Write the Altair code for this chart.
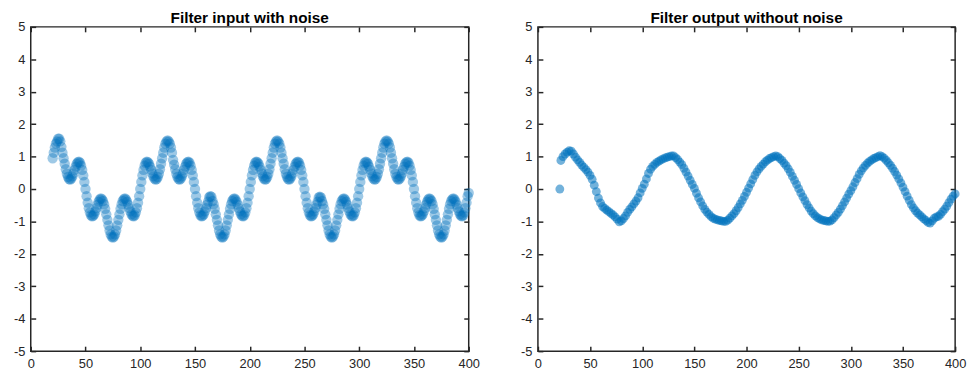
import altair as alt
import pandas as pd

# ---------------- tick values ----------------
x_ticks = [0, 50, 100, 150, 200, 250, 300, 350, 400]
y_ticks = [-5, -4, -3, -2, -1, 0, 1, 2, 3, 4, 5]

# ---------------- filter input with noise (x = 20 .. 400, step 1) ----------------
input_020_069 = [0.95, 1.12, 1.28, 1.40, 1.47, 1.55, 1.55, 1.47, 1.30, 1.12,
                 0.95, 0.78, 0.61, 0.47, 0.37, 0.31, 0.29, 0.32, 0.39, 0.48,
                 0.59, 0.69, 0.78, 0.83, 0.84, 0.81, 0.72, 0.59, 0.42, 0.22,
                 0.00, -0.22, -0.42, -0.59, -0.72, -0.81, -0.84, -0.83, -0.78, -0.69,
                 -0.59, -0.48, -0.39, -0.32, -0.29, -0.31, -0.37, -0.47, -0.61, -0.78]
input_070_119 = [-0.95, -1.12, -1.28, -1.40, -1.47, -1.50, -1.47, -1.40, -1.28, -1.12,
                 -0.95, -0.78, -0.61, -0.47, -0.37, -0.31, -0.29, -0.32, -0.39, -0.48,
                 -0.59, -0.69, -0.78, -0.83, -0.84, -0.81, -0.72, -0.59, -0.42, -0.22,
                 0.00, 0.22, 0.42, 0.59, 0.72, 0.81, 0.84, 0.83, 0.78, 0.69,
                 0.59, 0.48, 0.39, 0.32, 0.29, 0.31, 0.37, 0.47, 0.61, 0.78]
input_120_169 = [0.95, 1.12, 1.28, 1.40, 1.47, 1.50, 1.47, 1.40, 1.28, 1.12,
                 0.90, 0.75, 0.61, 0.47, 0.37, 0.31, 0.29, 0.32, 0.39, 0.48,
                 0.59, 0.69, 0.78, 0.83, 0.84, 0.81, 0.72, 0.59, 0.42, 0.22,
                 0.00, -0.22, -0.42, -0.59, -0.72, -0.81, -0.84, -0.83, -0.78, -0.69,
                 -0.59, -0.48, -0.39, -0.25, -0.22, -0.24, -0.37, -0.47, -0.61, -0.78]
input_170_219 = [-0.95, -1.12, -1.28, -1.40, -1.47, -1.50, -1.47, -1.40, -1.28, -1.12,
                 -0.95, -0.78, -0.61, -0.47, -0.37, -0.31, -0.29, -0.32, -0.39, -0.48,
                 -0.59, -0.69, -0.78, -0.83, -0.84, -0.81, -0.72, -0.59, -0.42, -0.22,
                 0.00, 0.22, 0.42, 0.59, 0.72, 0.81, 0.84, 0.83, 0.78, 0.69,
                 0.59, 0.48, 0.39, 0.32, 0.29, 0.31, 0.37, 0.47, 0.61, 0.78]
input_220_269 = [0.95, 1.12, 1.28, 1.40, 1.47, 1.50, 1.47, 1.40, 1.28, 1.12,
                 0.95, 0.78, 0.61, 0.47, 0.37, 0.31, 0.29, 0.32, 0.39, 0.48,
                 0.59, 0.69, 0.78, 0.83, 0.84, 0.81, 0.72, 0.59, 0.42, 0.22,
                 0.00, -0.22, -0.42, -0.59, -0.72, -0.81, -0.84, -0.83, -0.78, -0.69,
                 -0.59, -0.48, -0.39, -0.26, -0.24, -0.26, -0.37, -0.47, -0.61, -0.78]
input_270_319 = [-0.95, -1.12, -1.28, -1.40, -1.47, -1.50, -1.47, -1.40, -1.28, -1.12,
                 -0.95, -0.78, -0.61, -0.47, -0.37, -0.31, -0.29, -0.32, -0.39, -0.48,
                 -0.59, -0.69, -0.78, -0.83, -0.84, -0.81, -0.72, -0.59, -0.42, -0.22,
                 0.00, 0.22, 0.42, 0.59, 0.72, 0.81, 0.84, 0.83, 0.78, 0.69,
                 0.59, 0.48, 0.39, 0.32, 0.29, 0.31, 0.37, 0.47, 0.61, 0.78]
input_320_369 = [0.95, 1.12, 1.28, 1.40, 1.47, 1.50, 1.47, 1.40, 1.28, 1.12,
                 0.95, 0.78, 0.61, 0.47, 0.37, 0.31, 0.29, 0.32, 0.39, 0.48,
                 0.59, 0.69, 0.78, 0.83, 0.84, 0.81, 0.72, 0.59, 0.42, 0.22,
                 0.00, -0.22, -0.42, -0.59, -0.72, -0.81, -0.84, -0.83, -0.78, -0.69,
                 -0.59, -0.48, -0.39, -0.32, -0.29, -0.31, -0.37, -0.47, -0.61, -0.78]
input_370_400 = [-0.95, -1.12, -1.28, -1.40, -1.47, -1.50, -1.47, -1.40, -1.28, -1.12,
                 -0.95, -0.78, -0.61, -0.47, -0.37, -0.31, -0.29, -0.32, -0.39, -0.48,
                 -0.59, -0.69, -0.78, -0.83, -0.84, -0.81, -0.72, -0.59, -0.42, -0.22,
                 -0.12]

# ---------------- filter output without noise ----------------
output_first_x = [21]
output_first_y = [0.0]
output_022_400 = [0.88, 1.00, 1.08, 1.14, 1.18, 1.17, 1.08, 0.98, 0.90, 0.82,
                  0.74, 0.67, 0.60, 0.52, 0.42, 0.30, 0.12, -0.08, -0.28, -0.43,
                  -0.54, -0.60, -0.65, -0.70, -0.75, -0.80, -0.86, -0.93, -1.01, -0.98,
                  -0.91, -0.83, -0.72, -0.63, -0.55, -0.46, -0.37, -0.27, -0.12, 0.02,
                  0.15, 0.31, 0.48, 0.61, 0.70, 0.76, 0.82, 0.86, 0.90, 0.93,
                  0.96, 0.98, 1.00, 1.02, 1.02, 0.97, 0.91, 0.83, 0.75, 0.64,
                  0.52, 0.40, 0.27, 0.14, 0.02, -0.13, -0.27, -0.40, -0.52, -0.63,
                  -0.71, -0.78, -0.85, -0.90, -0.93, -0.95, -0.97, -0.98, -1.00, -1.00,
                  -0.96, -0.90, -0.83, -0.76, -0.67, -0.57, -0.46, -0.35, -0.23, -0.10,
                  0.03, 0.16, 0.29, 0.42, 0.53, 0.62, 0.70, 0.77, 0.84, 0.89,
                  0.94, 0.97, 1.00, 1.02, 1.00, 0.94, 0.88, 0.80, 0.72, 0.62,
                  0.51, 0.39, 0.27, 0.14, 0.01, -0.12, -0.24, -0.36, -0.48, -0.58,
                  -0.68, -0.76, -0.83, -0.88, -0.92, -0.95, -0.97, -0.98, -1.00, -0.99,
                  -0.95, -0.88, -0.80, -0.72, -0.62, -0.51, -0.40, -0.28, -0.16, -0.05,
                  0.07, 0.20, 0.32, 0.45, 0.56, 0.65, 0.73, 0.80, 0.85, 0.90,
                  0.94, 0.97, 1.00, 1.03, 1.00, 0.95, 0.88, 0.81, 0.73, 0.64,
                  0.54, 0.43, 0.31, 0.19, 0.06, -0.08, -0.22, -0.35, -0.48, -0.58,
                  -0.67, -0.74, -0.80, -0.86, -0.92, -0.97, -1.03, -1.05, -0.98, -0.90,
                  -0.86, -0.84, -0.78, -0.70, -0.62, -0.53, -0.42, -0.31, -0.22, -0.15]

input_y = (input_020_069 + input_070_119 + input_120_169 + input_170_219 +
           input_220_269 + input_270_319 + input_320_369 + input_370_400)
input_x = list(range(20, 20 + len(input_y)))
output_x = output_first_x + list(range(22, 22 + 2 * len(output_022_400), 2))
output_y = output_first_y + output_022_400

df_in = pd.DataFrame({"x": input_x, "y": input_y})
df_out = pd.DataFrame({"x": output_x, "y": output_y})

INK = "#262626"
BLUE = "#0072BD"


def panel(df, title, w, h, size, opacity, title_offset):
    xs = alt.Scale(domain=[0, 400], nice=False, zero=False)
    ys = alt.Scale(domain=[-5, 5], nice=False, zero=False)
    common = dict(grid=False, domain=False, ticks=True, tickSize=5, tickWidth=1.5,
                  tickColor=INK, offset=-5, labelFlush=False, labelOverlap=False,
                  labelFont="Liberation Sans", labelFontSize=13, labelColor=INK,
                  title=None)
    pts = alt.Chart(df).mark_circle(
        size=size, opacity=opacity, color=BLUE
    ).encode(
        x=alt.X("x:Q", scale=xs, axis=alt.Axis(values=x_ticks, orient="bottom",
                                               labelPadding=7,
                                               labelExpr="'' + datum.value", **common)),
        y=alt.Y("y:Q", scale=ys, axis=alt.Axis(values=y_ticks, orient="left",
                                               labelPadding=6,
                                               labelExpr="'' + datum.value", **common)),
    )
    ghost = alt.Chart(df).mark_point(opacity=0).encode(
        x=alt.X("x:Q", scale=xs, axis=alt.Axis(values=x_ticks, orient="top",
                                               labels=False, **common)),
        y=alt.Y("y:Q", scale=ys, axis=alt.Axis(values=y_ticks, orient="right",
                                               labels=False, **common)),
    )
    return alt.layer(pts, ghost).resolve_axis(x="independent", y="independent").properties(
        width=w, height=h,
        title=alt.TitleParams(title, offset=title_offset, fontSize=15.5,
                              font="Liberation Sans", fontWeight="bold", color="#000000"),
    )


left = panel(df_in, "Filter input with noise", 443, 328, 110, 0.38, -6)
right = panel(df_out, "Filter output without noise", 422, 328, 80, 0.55, -6)

chart = alt.hconcat(left, right, spacing=39).properties(
    padding={"left": 4, "top": 0, "right": 0, "bottom": 0}
).configure_view(stroke=INK, strokeWidth=1.5)

chart.save("out.html", embed_options={"renderer": "svg", "actions": False})
